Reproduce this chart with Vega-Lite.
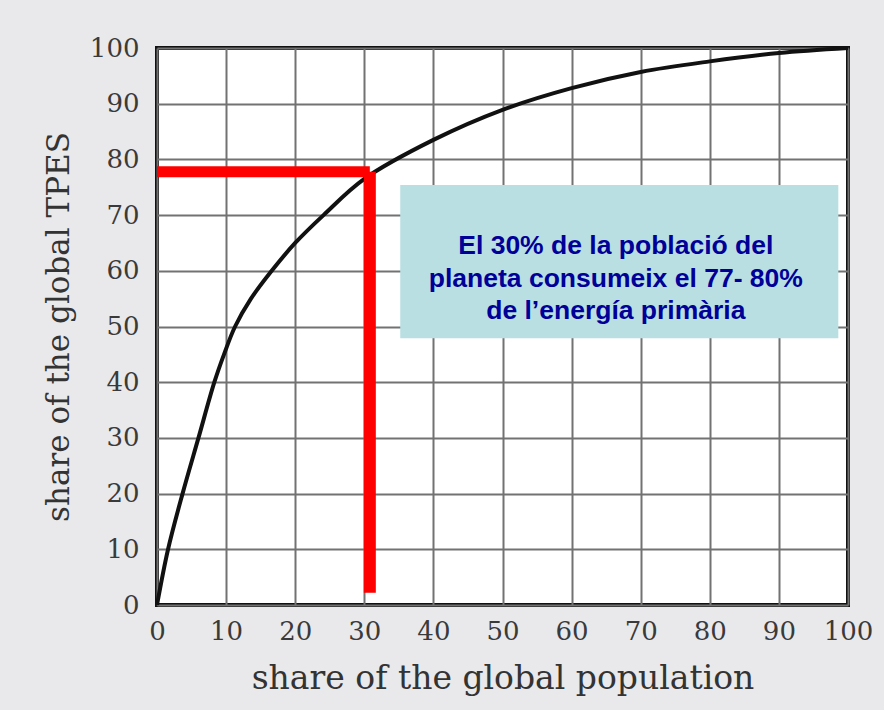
{
  "$schema": "https://vega.github.io/schema/vega-lite/v6.json",
  "width": 691,
  "height": 557,
  "autosize": {"type": "none"},
  "padding": {"left": 157, "top": 48, "right": 36, "bottom": 105},
  "background": "#e9e9eb",
  "config": {
    "view": {"fill": "white", "stroke": "#111111", "strokeWidth": 4},
    "axis": {
      "labelFont": "DejaVu Serif",
      "labelFontSize": 26,
      "labelColor": "#3a3a3a",
      "labelFlush": false,
      "labelOverlap": false,
      "titleFont": "DejaVu Serif",
      "titleFontWeight": "normal",
      "titleColor": "#333333",
      "ticks": false,
      "domain": false,
      "grid": true,
      "gridColor": "#727272",
      "gridWidth": 2,
      "gridOpacity": 1
    }
  },
  "datasets": {
    "curve": [
      {"pop": 0, "tpes": 0},
      {"pop": 1.6, "tpes": 10},
      {"pop": 3.7, "tpes": 20},
      {"pop": 6.0, "tpes": 30},
      {"pop": 8.3, "tpes": 40},
      {"pop": 9.7, "tpes": 45},
      {"pop": 11.3, "tpes": 50},
      {"pop": 13.6, "tpes": 55},
      {"pop": 16.6, "tpes": 60},
      {"pop": 20, "tpes": 65},
      {"pop": 24.1, "tpes": 70},
      {"pop": 30, "tpes": 76.5},
      {"pop": 40, "tpes": 83.5},
      {"pop": 50, "tpes": 88.9},
      {"pop": 60, "tpes": 92.8},
      {"pop": 70, "tpes": 95.7},
      {"pop": 80, "tpes": 97.6},
      {"pop": 90, "tpes": 99.1},
      {"pop": 100, "tpes": 100}
    ],
    "box": [{"x1": 35.2, "x2": 98.6, "y1": 75.4, "y2": 47.9}],
    "redH": [{"x1": 0, "x2": 30.8, "y": 77.8}],
    "redV": [{"x": 30.8, "y1": 2.2, "y2": 77.8}],
    "note": [
      {"x": 66.4, "y": 64.4, "t": "El 30% de la població del"},
      {"x": 66.4, "y": 58.5, "t": "planeta consumeix el 77- 80%"},
      {"x": 66.4, "y": 52.8, "t": "de l’energía primària"}
    ]
  },
  "layer": [
    {
      "data": {"name": "curve"},
      "mark": {"type": "line", "color": "#111111", "strokeWidth": 4, "interpolate": "catmull-rom"},
      "encoding": {
        "x": {
          "field": "pop", "type": "quantitative",
          "scale": {"domain": [0, 100], "nice": false},
          "axis": {"values": [0,10,20,30,40,50,60,70,80,90,100], "labelPadding": 13, "title": "share of the global population", "titleFontSize": 33, "titlePadding": 18}
        },
        "y": {
          "field": "tpes", "type": "quantitative",
          "scale": {"domain": [0, 100], "nice": false},
          "axis": {"values": [0,10,20,30,40,50,60,70,80,90,100], "labelPadding": 18, "title": "share of the global TPES", "titleFontSize": 31, "titlePadding": 14}
        }
      }
    },
    {
      "data": {"name": "box"},
      "mark": {"type": "rect", "color": "#b9dfe2"},
      "encoding": {
        "x": {"field": "x1", "type": "quantitative"},
        "x2": {"field": "x2"},
        "y": {"field": "y1", "type": "quantitative"},
        "y2": {"field": "y2"}
      }
    },
    {
      "data": {"name": "redH"},
      "mark": {"type": "rule", "color": "#ff0000", "strokeWidth": 11},
      "encoding": {
        "x": {"field": "x1", "type": "quantitative"},
        "x2": {"field": "x2"},
        "y": {"field": "y", "type": "quantitative"}
      }
    },
    {
      "data": {"name": "redV"},
      "mark": {"type": "rule", "color": "#ff0000", "strokeWidth": 12},
      "encoding": {
        "x": {"field": "x", "type": "quantitative"},
        "y": {"field": "y1", "type": "quantitative"},
        "y2": {"field": "y2"}
      }
    },
    {
      "data": {"name": "note"},
      "mark": {"type": "text", "font": "Liberation Sans", "fontWeight": "bold", "fontSize": 26.5, "color": "#000099", "align": "center", "baseline": "middle"},
      "encoding": {
        "x": {"field": "x", "type": "quantitative"},
        "y": {"field": "y", "type": "quantitative"},
        "text": {"field": "t"}
      }
    }
  ]
}
